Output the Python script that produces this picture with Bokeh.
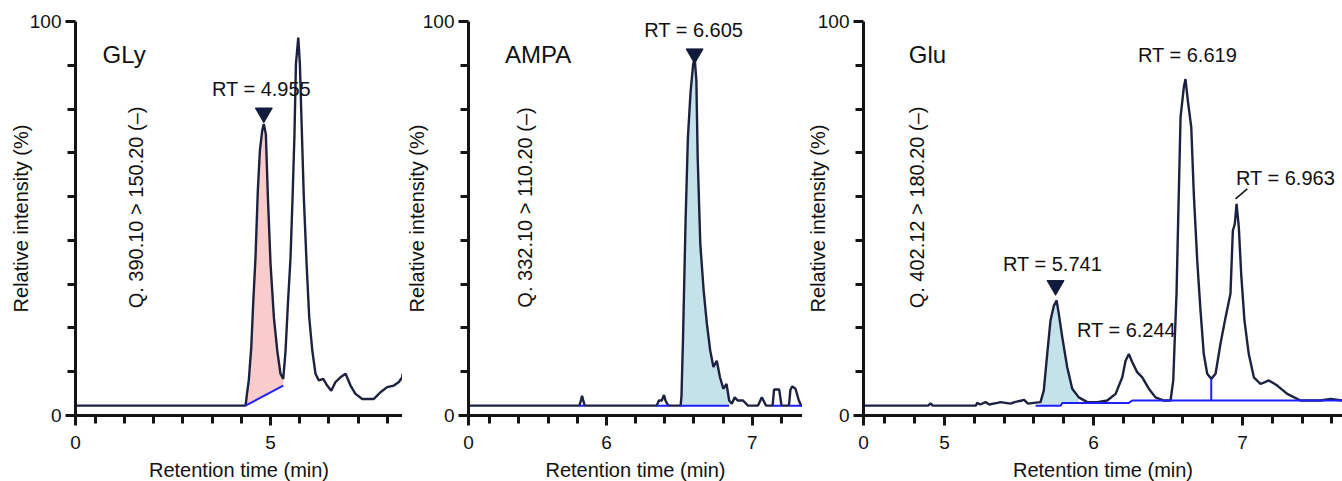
import numpy as np
from bokeh.plotting import figure
from bokeh.layouts import row
from bokeh.models import FixedTicker, Label
from bokeh.embed import file_html
from bokeh.resources import INLINE

# ---------------- data ----------------
# Panel 1: GLy
gly_time = [3.664, 4.829, 4.840, 4.851, 4.868, 4.881, 4.897, 4.913, 4.927, 4.943, 4.954, 4.968,
            4.982, 5.000, 5.023, 5.046, 5.068, 5.087, 5.103, 5.119, 5.137, 5.151, 5.164, 5.174,
            5.190, 5.201, 5.215, 5.228, 5.247, 5.265, 5.286, 5.308, 5.331, 5.361, 5.388, 5.416,
            5.445, 5.479, 5.514, 5.548, 5.582, 5.628, 5.708, 5.753, 5.799, 5.845, 5.879, 5.902, 5.904]
gly_int = [2.5, 2.5, 5.9, 8.9, 17.3, 28.3, 40.1, 57.1, 67.2, 72.3, 74.0, 71.4,
           55.4, 38.5, 24.9, 16.5, 10.6, 9.3, 16.5, 28.3, 40.1, 55.4, 71.4, 89.2,
           95.9, 89.2, 71.4, 55.4, 38.5, 24.9, 16.5, 10.6, 8.9, 9.3, 7.6, 6.3,
           8.5, 9.7, 10.6, 7.6, 5.5, 4.2, 4.2, 5.9, 7.2, 7.6, 8.5, 9.7, 10.6]
gly_base_t = [4.829, 5.087]
gly_base_i = [2.5, 7.6]
gly_peak = (4.954, 76.8)
gly_rt_labels = ["RT = 4.955"]
gly_rt_pos = [(4.938, 82.9)]

# Panel 2: AMPA
ampa_time = [5.054, 5.815, 5.826, 5.833, 5.840, 5.851, 6.345, 6.360, 6.380, 6.395, 6.405, 6.420,
             6.430, 6.509, 6.515, 6.525, 6.543, 6.559, 6.577, 6.595, 6.606, 6.617, 6.626, 6.644,
             6.667, 6.689, 6.712, 6.734, 6.757, 6.779, 6.802, 6.824, 6.842, 6.860, 6.880, 6.900,
             6.937, 6.971, 7.039, 7.066, 7.095, 7.140, 7.150, 7.158, 7.175, 7.185, 7.201, 7.252,
             7.262, 7.275, 7.297, 7.320, 7.336, 7.345]
ampa_int = [2.5, 2.5, 4.0, 5.0, 4.0, 2.5, 2.5, 3.8, 3.8, 5.2, 3.8, 2.8,
            2.5, 2.5, 5.0, 19.0, 49.5, 70.6, 82.0, 89.2, 90.5, 85.0, 65.5, 43.5,
            31.7, 23.3, 16.5, 12.3, 13.9, 9.7, 6.8, 8.0, 3.8, 3.0, 4.6, 3.8,
            3.8, 2.5, 2.5, 4.6, 2.5, 2.5, 6.6, 6.6, 6.6, 6.6, 2.5, 2.5,
            6.5, 7.4, 6.8, 3.8, 2.5, 2.5]
ampa_base_t0 = [5.815, 6.345, 6.509, 7.140, 7.252]
ampa_base_t1 = [5.851, 6.430, 6.842, 7.201, 7.345]
ampa_base_i = 2.5
ampa_peak = (6.605, 91.8)
ampa_rt_labels = ["RT = 6.605"]
ampa_rt_pos = [(6.599, 97.9)]

# Panel 3: Glu
glu_time = [4.456, 4.890, 4.906, 4.920, 5.210, 5.219, 5.240, 5.275, 5.300, 5.354, 5.376, 5.443,
            5.470, 5.521, 5.532, 5.560, 5.599, 5.644, 5.666, 5.689, 5.711, 5.734, 5.752, 5.767,
            5.790, 5.823, 5.857, 5.901, 5.958, 6.025, 6.092, 6.148, 6.193, 6.215, 6.237, 6.260,
            6.293, 6.327, 6.371, 6.416, 6.472, 6.517, 6.535, 6.544, 6.557, 6.566, 6.584, 6.606,
            6.617, 6.633, 6.656, 6.673, 6.696, 6.718, 6.740, 6.763, 6.790, 6.819, 6.852, 6.886,
            6.919, 6.935, 6.948, 6.960, 6.975, 6.991, 7.013, 7.042, 7.076, 7.121, 7.177, 7.233,
            7.300, 7.389, 7.523, 7.591, 7.671]
glu_int = [2.5, 2.5, 3.1, 2.5, 2.5, 3.2, 2.8, 3.4, 2.8, 3.2, 3.4, 3.0,
           3.4, 3.8, 4.0, 3.0, 3.2, 3.4, 6.3, 15.6, 24.1, 27.9, 29.2, 25.8,
           19.9, 12.3, 6.8, 4.6, 3.4, 3.4, 3.8, 5.5, 9.7, 13.9, 15.6, 13.5,
           11.0, 9.7, 6.8, 4.6, 3.8, 3.8, 8.9, 18.2, 30.9, 46.1, 75.7, 83.3,
           85.4, 79.9, 73.1, 56.2, 39.3, 26.6, 15.6, 10.6, 9.3, 10.6, 18.2, 24.9,
           30.9, 46.9, 48.6, 53.7, 47.8, 35.9, 24.1, 15.6, 9.7, 8.0, 8.9, 7.6,
           5.5, 3.8, 3.8, 4.2, 3.8]
glu_base_t = [5.611, 5.779, 5.790, 6.237, 6.260, 7.671]
glu_base_i = [2.5, 2.5, 3.2, 3.2, 3.8, 3.8]
glu_drop = (6.790, 3.8, 9.3)
glu_peak = (5.745, 33.0)
glu_rt_labels = ["RT = 5.741", "RT = 6.244", "RT = 6.619", "RT = 6.963"]
glu_rt_pos = [(5.725, 38.5), (6.221, 21.8), (6.631, 91.5), (7.289, 60.2)]
glu_leader = ([7.032, 6.953], [57.5, 55.0])

# axes / labels
y_major = [0, 100]
y_minor = [100.0 * k / 9 for k in range(1, 9)]
gly_xticks, gly_xlabels = [3.664, 5.0], ["0", "5"]
ampa_xticks, ampa_xlabels = [5.054, 6.0, 7.0], ["0", "6", "7"]
glu_xticks, glu_xlabels = [4.456, 5.0, 6.0, 7.0], ["0", "5", "6", "7"]

names = ["GLy", "AMPA", "Glu"]
transitions = ["Q. 390.10 > 150.20 (\u2013)", "Q. 332.10 > 110.20 (\u2013)", "Q. 402.12 > 180.20 (\u2013)"]

FONT = "Liberation Sans"
TRACE = "#1d2140"
AXC = "#141414"
BLUE = "#1f1fff"
PINK = "#f9cccc"
LBLUE = "#c4e2ea"

FIG_H = 490


def make_fig(width, border_left, xr, xticks, xlabels, minor, ylab_standoff):
    p = figure(width=width, height=FIG_H, x_range=xr, y_range=(0, 100),
               output_backend="svg", toolbar_location=None,
               min_border_left=border_left, min_border_right=0,
               min_border_top=21, min_border_bottom=FIG_H - 21 - 394)
    p.outline_line_color = None
    p.xgrid.visible = False
    p.ygrid.visible = False
    p.background_fill_color = "white"
    p.border_fill_color = "white"
    p.xaxis.ticker = FixedTicker(ticks=xticks, minor_ticks=minor)
    p.xaxis.major_label_overrides = dict(zip(xticks, xlabels))
    p.yaxis.ticker = FixedTicker(ticks=y_major, minor_ticks=y_minor)
    p.xaxis.axis_label = "Retention time (min)"
    p.yaxis.axis_label = "Relative intensity (%)"
    for ax in (p.xaxis[0], p.yaxis[0]):
        ax.axis_line_width = 3
        ax.axis_line_color = AXC
        ax.major_tick_line_width = 3
        ax.minor_tick_line_width = 3
        ax.major_tick_line_color = AXC
        ax.minor_tick_line_color = AXC
        ax.major_tick_in = 0
        ax.minor_tick_in = 0
        ax.major_tick_out = 10
        ax.minor_tick_out = 8
        ax.major_label_text_font = FONT
        ax.major_label_text_font_size = "19px"
        ax.major_label_text_color = "#111111"
        ax.axis_label_text_font = FONT
        ax.axis_label_text_font_size = "20px"
        ax.axis_label_text_font_style = "normal"
        ax.axis_label_text_color = "#111111"
    p.xaxis.major_label_standoff = 10
    p.xaxis.axis_label_standoff = 7
    p.yaxis.major_label_standoff = 4
    p.yaxis.axis_label_standoff = ylab_standoff
    return p


def minor_ticks(start, stop, majors):
    vals = np.round(np.arange(start, stop + 1e-9, 0.2), 3)
    return [float(v) for v in vals if all(abs(v - m) > 1e-6 for m in majors)]


def add_texts(p, name, name_xy, trans, trans_xy, rt_labels, rt_pos):
    p.add_layout(Label(x=name_xy[0], y=name_xy[1], text=name, text_font=FONT,
                       text_font_size="24px", text_align="left", text_baseline="middle",
                       text_color="#111111"))
    p.add_layout(Label(x=trans_xy[0], y=trans_xy[1], text=trans, text_font=FONT,
                       text_font_size="20px", text_align="center", text_baseline="middle",
                       angle=np.pi / 2, text_color="#111111"))
    for t, (x, y) in zip(rt_labels, rt_pos):
        p.add_layout(Label(x=x, y=y, text=t, text_font=FONT, text_font_size="20px",
                           text_align="center", text_baseline="middle", text_color="#111111"))


# ---------------- panel 1 ----------------
p1 = make_fig(402, 75, (3.664, 5.904), gly_xticks, gly_xlabels,
              minor_ticks(3.8, 5.8, gly_xticks), -5)
gt = np.array(gly_time); gi = np.array(gly_int)
m = (gt >= gly_base_t[0]) & (gt <= gly_base_t[1])
p1.patch(list(gt[m]) + gly_base_t[::-1], list(gi[m]) + gly_base_i[::-1],
         fill_color=PINK, line_color=None)
p1.line(gly_time, gly_int, line_color=TRACE, line_width=2.4)
p1.line(gly_base_t, gly_base_i, line_color=BLUE, line_width=2)
p1.scatter([gly_peak[0]], [gly_peak[1]], marker="inverted_triangle", size=17,
           fill_color="#111a3a", line_color="#111a3a")
add_texts(p1, names[0], (3.849, 91.7), transitions[0], (4.079, 52.8), gly_rt_labels, gly_rt_pos)

# ---------------- panel 2 ----------------
p2 = make_fig(400, 61, (5.054, 7.345), ampa_xticks, ampa_xlabels,
              minor_ticks(5.2, 7.2, ampa_xticks), -8)
at = np.array(ampa_time); ai = np.array(ampa_int)
m = (at >= ampa_base_t0[2]) & (at <= ampa_base_t1[2])
p2.patch(list(at[m]) + [ampa_base_t1[2], ampa_base_t0[2]],
         list(ai[m]) + [ampa_base_i, ampa_base_i], fill_color=LBLUE, line_color=None)
p2.line(ampa_time, ampa_int, line_color=TRACE, line_width=2.4)
p2.segment(ampa_base_t0, [ampa_base_i] * len(ampa_base_t0), ampa_base_t1,
           [ampa_base_i] * len(ampa_base_t1), line_color=BLUE, line_width=2)
p2.scatter([ampa_peak[0]], [ampa_peak[1]], marker="inverted_triangle", size=17,
           fill_color="#111a3a", line_color="#111a3a")
add_texts(p2, names[1], (5.304, 91.7), transitions[1], (5.439, 52.8), ampa_rt_labels, ampa_rt_pos)

# ---------------- panel 3 ----------------
p3 = make_fig(540, 61, (4.456, 7.671), glu_xticks, glu_xlabels,
              minor_ticks(4.6, 7.6, glu_xticks), -14)
ut = np.array(glu_time); ui = np.array(glu_int)
m = (ut >= 5.644) & (ut <= 5.901)
fx = ut[m]
fb = np.interp(fx, glu_base_t, glu_base_i)
p3.patch(list(fx) + list(fx[::-1]), list(ui[m]) + list(fb[::-1]), fill_color=LBLUE, line_color=None)
p3.line(glu_time, glu_int, line_color=TRACE, line_width=2.4)
p3.line(glu_base_t, glu_base_i, line_color=BLUE, line_width=2)
p3.segment([glu_drop[0]], [glu_drop[1]], [glu_drop[0]], [glu_drop[2]], line_color=BLUE, line_width=2)
p3.line(glu_leader[0], glu_leader[1], line_color="#111111", line_width=1.5)
p3.scatter([glu_peak[0]], [glu_peak[1]], marker="inverted_triangle", size=17,
           fill_color="#111a3a", line_color="#111a3a")
add_texts(p3, names[2], (4.760, 91.7), transitions[2], (4.815, 52.8), glu_rt_labels, glu_rt_pos)

kwargs = {}
try:
    from bokeh.models import GlobalInlineStyleSheet
    kwargs["stylesheets"] = [GlobalInlineStyleSheet(
        css="html, body { margin: 0; padding: 0; overflow: hidden; }")]
except Exception:
    pass

layout = row(p1, p2, p3, **kwargs)
open("out.html", "w").write(file_html(layout, INLINE))
